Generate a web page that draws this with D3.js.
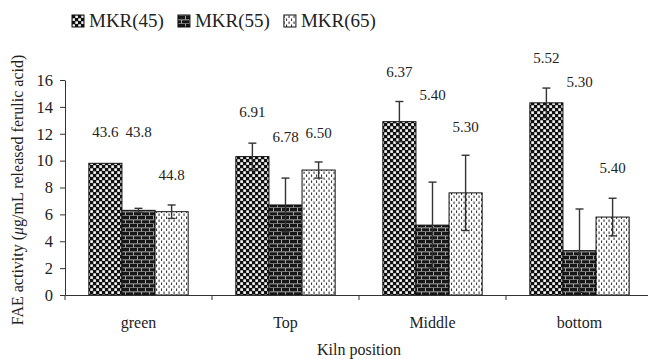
<!DOCTYPE html>
<html>
<head>
<meta charset="utf-8">
<script src="https://cdn.jsdelivr.net/npm/d3@7"></script>
<style>
  html, body { margin: 0; padding: 0; background: #fff; }
  svg text { font-family: "Liberation Serif", "Times New Roman", Times, "DejaVu Serif", serif; }
</style>
</head>
<body>
<svg id="chart" width="648" height="359"></svg>
<script>
// ---- data ----
const categories = ["green", "Top", "Middle", "bottom"];
const series = ["MKR(45)", "MKR(55)", "MKR(65)"];
const valuesMKR45 = [9.8, 10.3, 12.9, 14.3];
const valuesMKR55 = [6.3, 6.7, 5.2, 3.3];
const valuesMKR65 = [6.2, 9.3, 7.6, 5.8];
const errorsMKR45 = [0.0, 1.0, 1.5, 1.1];
const errorsMKR55 = [0.15, 2.0, 3.2, 3.1];
const errorsMKR65 = [0.5, 0.6, 2.8, 1.4];
const labelsMKR45 = ["43.6", "6.91", "6.37", "5.52"];
const labelsMKR55 = ["43.8", "6.78", "5.40", "5.30"];
const labelsMKR65 = ["44.8", "6.50", "5.30", "5.40"];
// annotation heights (in axis units) where each label sits
const labelLevelsMKR45 = [11.76, 13.24, 16.22, 17.26];
const labelLevelsMKR55 = [11.76, 11.38, 14.51, 15.48];
const labelLevelsMKR65 = [8.56, 11.68, 12.13, 9.08];
const yTicks = [0, 2, 4, 6, 8, 10, 12, 14, 16];

const values = [valuesMKR45, valuesMKR55, valuesMKR65];
const errors = [errorsMKR45, errorsMKR55, errorsMKR65];
const labels = [labelsMKR45, labelsMKR55, labelsMKR65];
const labelLevels = [labelLevelsMKR45, labelLevelsMKR55, labelLevelsMKR65];

const rows = [];
series.forEach((s, si) => categories.forEach((c, ci) => rows.push({
  series: s, si, cat: c, value: values[si][ci], err: errors[si][ci],
  label: labels[si][ci], level: labelLevels[si][ci]
})));

// ---- layout ----
const svg = d3.select("#chart");
const plotLeft = 65, plotRight = 653, plotTop = 80, plotBottom = 295;
const ink = "#222";
const FONT = "'Liberation Serif', 'Times New Roman', Times, 'DejaVu Serif', serif";

const x = d3.scaleBand().domain(categories).range([plotLeft, plotRight]).paddingInner(0).paddingOuter(0);
const xs = d3.scaleBand().domain(series).range([0, x.bandwidth()]).paddingInner(0).paddingOuter(0.72);
const y = d3.scaleLinear().domain([0, 16]).range([plotBottom, plotTop]);

// ---- patterns ----
const defs = svg.append("defs");
const p1 = defs.append("pattern").attr("id", "pat0").attr("patternUnits", "userSpaceOnUse")
  .attr("width", 6).attr("height", 6);
p1.append("rect").attr("width", 6).attr("height", 6).attr("fill", "#111");
p1.append("rect").attr("x", 0.3).attr("y", 0.3).attr("width", 2.6).attr("height", 2.6).attr("fill", "#fff");
p1.append("rect").attr("x", 3.3).attr("y", 3.3).attr("width", 2.6).attr("height", 2.6).attr("fill", "#fff");

const p2 = defs.append("pattern").attr("id", "pat1").attr("patternUnits", "userSpaceOnUse")
  .attr("width", 8).attr("height", 8);
p2.append("rect").attr("width", 8).attr("height", 8).attr("fill", "#161616");
p2.append("rect").attr("x", 0).attr("y", 3.4).attr("width", 8).attr("height", 0.9).attr("fill", "#b5b5b5");
p2.append("rect").attr("x", 0).attr("y", 7.4).attr("width", 8).attr("height", 0.9).attr("fill", "#b5b5b5");
p2.append("rect").attr("x", 1).attr("y", 0).attr("width", 0.9).attr("height", 3.5).attr("fill", "#b5b5b5");
p2.append("rect").attr("x", 5).attr("y", 4).attr("width", 0.9).attr("height", 3.5).attr("fill", "#b5b5b5");

const p3 = defs.append("pattern").attr("id", "pat2").attr("patternUnits", "userSpaceOnUse")
  .attr("width", 5).attr("height", 6);
p3.append("rect").attr("width", 5).attr("height", 6).attr("fill", "#fff");
p3.append("rect").attr("x", 1).attr("y", 0.5).attr("width", 1.1).attr("height", 2.4).attr("fill", "#333");
p3.append("rect").attr("x", 3.5).attr("y", 3.5).attr("width", 1.1).attr("height", 2.4).attr("fill", "#333");

// ---- bars ----
svg.append("g").selectAll("rect").data(rows).join("rect")
  .attr("x", d => x(d.cat) + xs(d.series))
  .attr("y", d => y(d.value))
  .attr("width", xs.bandwidth())
  .attr("height", d => y(0) - y(d.value))
  .attr("fill", d => `url(#pat${d.si})`)
  .attr("stroke", "#111").attr("stroke-width", 1);

// ---- error bars ----
const eb = svg.append("g").attr("stroke", "#333").attr("stroke-width", 1.4);
rows.filter(d => d.err > 0).forEach(d => {
  const cx = x(d.cat) + xs(d.series) + xs.bandwidth() / 2;
  const y1 = y(d.value + d.err), y2 = y(Math.max(0, d.value - d.err));
  eb.append("line").attr("x1", cx).attr("x2", cx).attr("y1", y1).attr("y2", y2);
  eb.append("line").attr("x1", cx - 4).attr("x2", cx + 4).attr("y1", y1).attr("y2", y1);
  eb.append("line").attr("x1", cx - 4).attr("x2", cx + 4).attr("y1", y2).attr("y2", y2);
});

// ---- value labels ----
svg.append("g").selectAll("text").data(rows).join("text")
  .attr("x", d => x(d.cat) + xs(d.series) + xs.bandwidth() / 2)
  .attr("y", d => y(d.level))
  .attr("text-anchor", "middle")
  .attr("font-family", FONT)
  .attr("font-size", 15)
  .attr("fill", ink)
  .text(d => d.label);

// ---- axes ----
const yAxis = svg.append("g").attr("transform", `translate(${plotLeft},0)`)
  .call(d3.axisLeft(y).tickValues(yTicks).tickSize(5).tickPadding(7).tickSizeOuter(0))
  .attr("font-family", FONT);
yAxis.select(".domain").attr("stroke", "#333");
yAxis.selectAll(".tick line").attr("stroke", "#333");
yAxis.selectAll("text").attr("font-size", 16.5).attr("fill", ink);

const xAxis = svg.append("g").attr("transform", `translate(0,${plotBottom})`)
  .call(d3.axisBottom(x).tickSize(0).tickPadding(22).tickSizeOuter(0))
  .attr("font-family", FONT);
xAxis.select(".domain").attr("stroke", "#333");
xAxis.selectAll("text").attr("font-size", 16).attr("fill", ink);
// boundary ticks between categories
const bounds = categories.map(c => x(c)).concat([x(categories[categories.length - 1]) + x.bandwidth()]);
svg.append("g").selectAll("line").data(bounds).join("line")
  .attr("x1", d => d).attr("x2", d => d)
  .attr("y1", plotBottom).attr("y2", plotBottom + 5)
  .attr("stroke", "#333");

// ---- axis titles ----
svg.append("text")
  .attr("x", (plotLeft + plotRight) / 2).attr("y", 355)
  .attr("text-anchor", "middle").attr("font-size", 16).attr("fill", ink)
  .attr("font-family", FONT)
  .text("Kiln position");

const yt = svg.append("text")
  .attr("transform", `translate(23,${190}) rotate(-90)`)
  .attr("text-anchor", "middle").attr("font-size", 16).attr("fill", ink)
  .attr("font-family", FONT);
yt.append("tspan").text("FAE activity (");
yt.append("tspan").attr("font-style", "italic").text("μ");
yt.append("tspan").text("g/mL released ferulic acid)");

// ---- legend ----
const legend = svg.append("g");
let lx = 72;
series.forEach((s, i) => {
  legend.append("rect").attr("x", lx).attr("y", 15).attr("width", 12).attr("height", 12)
    .attr("fill", `url(#pat${i})`).attr("stroke", "#111").attr("stroke-width", 1);
  const t = legend.append("text").attr("x", lx + 17).attr("y", 27)
    .attr("font-family", FONT)
    .attr("font-size", 19).attr("fill", ink).text(s);
  lx = lx + 17 + t.node().getComputedTextLength() + 14;
});
</script>
</body>
</html>
